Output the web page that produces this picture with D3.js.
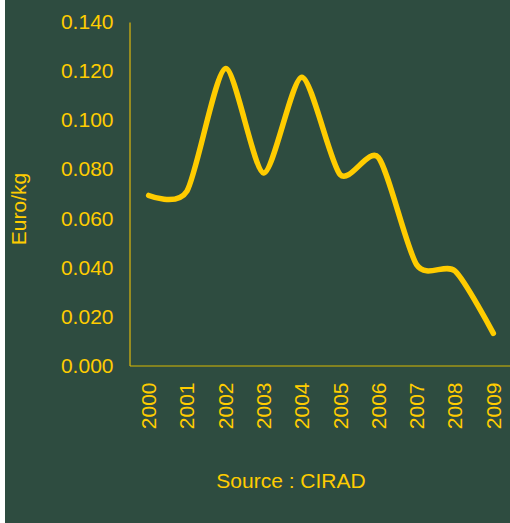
<!DOCTYPE html>
<html>
<head>
<meta charset="utf-8">
<script src="https://cdn.jsdelivr.net/npm/d3@7"></script>
<style>
  html, body { margin: 0; padding: 0; background: #ffffff; }
  svg { display: block; }
  text { font-family: "Liberation Sans", Arial, sans-serif; fill: #FFCC00; }
</style>
</head>
<body>
<script>
// Annual price series
const years = ["2000", "2001", "2002", "2003", "2004", "2005", "2006", "2007", "2008", "2009"];
const prices = [0.0693, 0.0711, 0.1210, 0.0785, 0.1175, 0.0778, 0.0848, 0.0410, 0.0385, 0.0131];
const yTicks = [0, 0.02, 0.04, 0.06, 0.08, 0.10, 0.12, 0.14];
const yTitle = "Euro/kg";
const sourceNote = "Source : CIRAD";

const W = 510, H = 523;
const bg = "#2E4C40", gold = "#FFCC00";
const fontSize = 21;
const fontFamily = "'Liberation Sans', Arial, sans-serif";

const svg = d3.select("body").append("svg").attr("width", W).attr("height", H);

// panel background with a thin white margin at the left
svg.append("rect").attr("x", 0).attr("y", 0).attr("width", W).attr("height", H).attr("fill", "#ffffff");
svg.append("rect").attr("x", 5).attr("y", 0).attr("width", W - 5).attr("height", H).attr("fill", bg);

const plotLeft = 129.5, plotTop = 22, plotBottom = 365.5;
const x = d3.scaleBand().domain(years).range([plotLeft, plotLeft + 38.3 * years.length]).padding(0);
const y = d3.scaleLinear().domain([0, 0.14]).range([plotBottom, plotTop]);

// y axis
const yAxis = svg.append("g").attr("transform", `translate(${plotLeft},0)`)
  .call(d3.axisLeft(y).tickValues(yTicks).tickSize(0).tickPadding(16).tickFormat(d3.format(".3f")));
yAxis.select(".domain").attr("stroke", gold).attr("stroke-width", 1);
yAxis.selectAll("text").attr("font-size", fontSize).attr("fill", gold)
  .style("font-family", fontFamily);

// x axis with vertical year labels
const xAxis = svg.append("g").attr("transform", `translate(0,${plotBottom})`)
  .call(d3.axisBottom(x).tickSize(0).tickPadding(0));
xAxis.select(".domain").attr("stroke", "#D8B800").attr("stroke-width", 1);
xAxis.selectAll("text")
  .attr("font-size", fontSize).attr("fill", gold)
  .style("font-family", fontFamily)
  .attr("text-anchor", "end")
  .attr("transform", "translate(0,17) rotate(-90)")
  .attr("x", 0).attr("y", 0).attr("dy", "0.35em");

// axis title
svg.append("text")
  .attr("transform", "translate(26,209) rotate(-90)")
  .attr("text-anchor", "middle")
  .attr("font-size", fontSize)
  .text(yTitle);

// source note
svg.append("text")
  .attr("x", 291).attr("y", 488)
  .attr("text-anchor", "middle")
  .attr("font-size", fontSize)
  .text(sourceNote);

// smoothed price line
const line = d3.line()
  .x((d, i) => x(years[i]) + x.bandwidth() / 2)
  .y(d => y(d))
  .curve(d3.curveCardinal.tension(0.25));

svg.append("path")
  .datum(prices)
  .attr("d", line)
  .attr("fill", "none")
  .attr("stroke", gold)
  .attr("stroke-width", 5.5)
  .attr("stroke-linecap", "round")
  .attr("stroke-linejoin", "round");
</script>
</body>
</html>
